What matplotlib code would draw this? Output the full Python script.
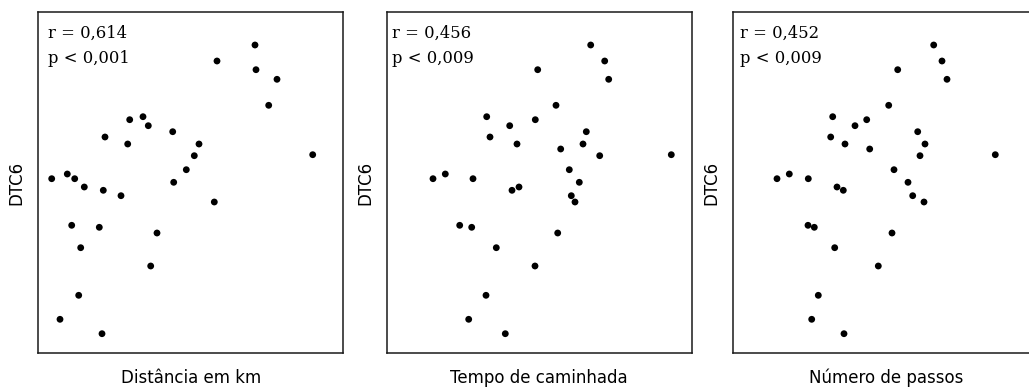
import matplotlib
matplotlib.use("Agg")
import matplotlib.pyplot as plt

# DTC6 values (arbitrary units)
dtc6_a = [308.3, 292.3, 283.6, 274.0, 248.0, 233.6, 236.6, 227.6, 221.6, 216.3,
          209.3, 209.3, 197.6, 198.6, 183.6, 171.0, 174.6, 179.3, 174.6, 166.3,
          163.0, 157.6, 151.3, 128.0, 126.0, 120.3, 105.6, 87.3, 58.0, 34.0, 19.6]
distancia_km = [216.7, 178.7, 217.7, 238.7, 230.4, 91.4, 104.7, 110.0, 134.4, 66.7,
                89.4, 160.7, 156.0, 274.4, 148.0, 135.4, 13.4, 29.0, 36.4, 46.0,
                65.0, 82.7, 176.0, 33.4, 61.0, 118.7, 42.4, 112.4, 40.4, 21.7, 63.7]

dtc6_b = [308.3, 292.3, 283.6, 274.0, 248.0, 236.6, 233.6, 227.6, 221.6, 216.3,
          209.3, 209.3, 204.3, 197.6, 198.6, 183.6, 171.0, 174.6, 179.3, 174.6,
          166.3, 163.0, 157.6, 151.3, 128.0, 126.0, 120.3, 105.6, 87.3, 58.0, 34.0, 19.6]
tempo_caminhada = [204.0, 218.0, 151.0, 222.0, 169.3, 100.0, 148.6, 123.0, 199.6, 103.3,
                   130.3, 196.3, 174.0, 213.0, 284.6, 182.6, 192.6, 46.3, 58.6, 86.3,
                   132.3, 125.3, 184.6, 188.3, 73.0, 85.0, 171.0, 109.6, 148.3, 99.3, 82.0, 118.6]
numero_passos = [200.4, 208.7, 164.4, 213.7, 155.4, 99.4, 133.4, 121.7, 184.4, 97.4,
                 111.7, 191.7, 136.4, 186.7, 262.0, 160.7, 174.7, 43.7, 56.0, 75.0,
                 103.7, 110.0, 179.4, 190.7, 74.7, 81.0, 158.7, 101.4, 145.0, 85.0, 78.4, 110.7]

xlabels = ["Distância em km", "Tempo de caminhada", "Número de passos"]
r_texts = ["r = 0,614", "r = 0,456", "r = 0,452"]
p_texts = ["p < 0,001", "p < 0,009", "p < 0,009"]
ylabel = "DTC6"

W, H = 1029, 390
fig = plt.figure(figsize=(W / 100, H / 100), dpi=100)

lefts = [38.3, 386.7, 733.3]
top, bottom = 12.0, 353.3
pw = 305.0
text_dx = [10, 5, 7]

series = [(distancia_km, dtc6_a), (tempo_caminhada, dtc6_b), (numero_passos, dtc6_b)]

for i, (xs, ys) in enumerate(series):
    ax = fig.add_axes([lefts[i] / W, (H - bottom) / H, pw / W, (bottom - top) / H])
    ax.scatter(xs, ys, s=24, color="black", edgecolors="none", zorder=3)
    ax.set_xlim(0, pw)
    ax.set_ylim(0, bottom - top)
    ax.set_xticks([])
    ax.set_yticks([])
    for sp in ax.spines.values():
        sp.set_linewidth(1.1)
        sp.set_color("#1a1a1a")
    ax.set_xlabel(xlabels[i], fontsize=12, family="DejaVu Sans", labelpad=11)
    ax.set_ylabel(ylabel, fontsize=12, family="DejaVu Sans", labelpad=9)
    ax.text(text_dx[i] / pw, (bottom - 37.5) / (bottom - top), r_texts[i],
            transform=ax.transAxes, fontsize=11.8, family="DejaVu Serif",
            va="baseline", ha="left")
    ax.text(text_dx[i] / pw, (bottom - 62.5) / (bottom - top), p_texts[i],
            transform=ax.transAxes, fontsize=11.8, family="DejaVu Serif",
            va="baseline", ha="left")

fig.savefig("out.png", dpi=100)
